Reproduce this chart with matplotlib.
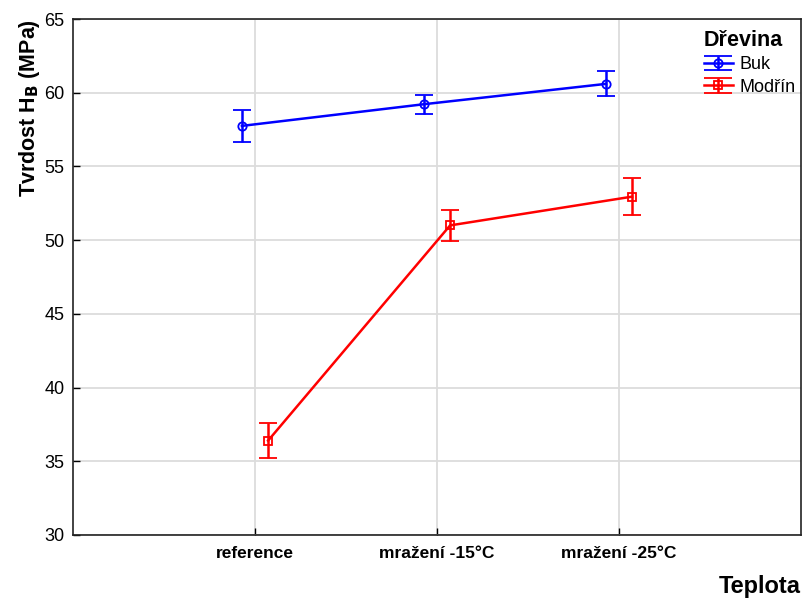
import matplotlib
matplotlib.use("Agg")
import matplotlib.pyplot as plt
from matplotlib.legend_handler import HandlerErrorbar
from matplotlib.lines import Line2D
import numpy as np

plt.rcParams['font.family'] = ['Liberation Sans', 'DejaVu Sans']

categories = ["reference", "mražení -15°C", "mražení -25°C"]
buk_mean = [57.75, 59.22, 60.6]
buk_err = [1.1, 0.65, 0.85]
modrin_mean = [36.4, 51.0, 52.95]
modrin_err = [1.2, 1.05, 1.25]
yticks = [30, 35, 40, 45, 50, 55, 60, 65]


class WideCapHandler(HandlerErrorbar):
    def create_artists(self, legend, orig_handle, xdescent, ydescent,
                       width, height, fontsize, trans):
        arts = super().create_artists(legend, orig_handle, xdescent, ydescent,
                                      width, height, fontsize, trans)
        for a in arts:
            if isinstance(a, Line2D) and a.get_marker() == '_':
                a.set_markersize(width)
        return arts


fig = plt.figure(figsize=(8.05, 5.98), dpi=100)
ax = fig.add_axes([0.0907, 0.1054, 0.9043, 0.8628])

x = np.arange(1, len(categories) + 1)
off = 0.072

ax.errorbar(x - off, buk_mean, yerr=buk_err, color='#0000ff', lw=1.8,
            marker='o', ms=6, mfc='none', mew=1.3, capsize=6.5, capthick=1.8,
            elinewidth=1.8, label='Buk', zorder=3)
ax.errorbar(x + off, modrin_mean, yerr=modrin_err, color='#ff0000', lw=1.8,
            marker='s', ms=6, mfc='none', mew=1.3, capsize=6.5, capthick=1.8,
            elinewidth=1.8, label='Modřín', zorder=3)

ax.set_xlim(0, 4)
ax.set_ylim(30, 65)
ax.set_xticks(x)
ax.set_xticklabels(categories, fontweight='bold', fontsize=12.5)
ax.set_yticks(yticks)
ax.tick_params(axis='y', labelsize=13, direction='in', length=5, width=1, pad=6)
ax.tick_params(axis='x', direction='in', length=5, width=1, pad=8)
ax.grid(True, color='#dcdcdc', lw=1.3, zorder=0)
ax.set_axisbelow(True)
for s in ax.spines.values():
    s.set_linewidth(1.2)
    s.set_color('#222222')

ax.set_ylabel("Tvrdost H$_\\mathbf{B}$ (MPa)", fontsize=15.5, fontweight='bold',
              loc='top', labelpad=2)
fig.text(0.995, 0.0, "Teplota", ha='right', va='bottom', fontsize=17, fontweight='bold')

leg = ax.legend(title="Dřevina", loc='upper right', bbox_to_anchor=(1.008, 1.0),
                frameon=False, fontsize=13, alignment='left',
                handlelength=1.6, handletextpad=0.4, borderaxespad=0.2,
                labelspacing=0.3,
                handler_map={type(ax.containers[0]): WideCapHandler(yerr_size=0.4)})
leg.get_title().set_fontweight('bold')
leg.get_title().set_fontsize(15.5)

fig.savefig("out.png", dpi=100)
